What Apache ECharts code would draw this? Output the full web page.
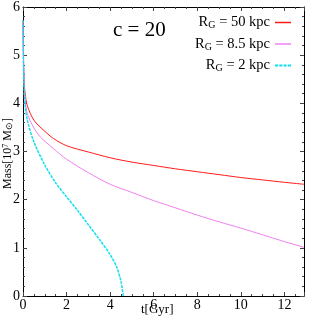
<!DOCTYPE html>
<html><head><meta charset="utf-8">
<script src="https://cdn.jsdelivr.net/npm/echarts@6/dist/echarts.min.js"></script>
<style>html,body{margin:0;padding:0;background:#fff}#c{width:316px;height:316px}</style>
</head><body><div id="c"></div>
<script>
var seriesNames = ['50 kpc', '8.5 kpc', '2 kpc'];
var red50 = [[0,5.72],[0.02,5.0],[0.05,4.5],[0.1,4.2],[0.2,3.95],[0.5,3.65],[1,3.42],[1.4,3.27],[2,3.12],[3,2.99],[4,2.87],[5,2.78],[6,2.71],[7,2.64],[8,2.58],[9,2.52],[10,2.46],[11,2.41],[12,2.36],[12.9,2.32]];
var violet85 = [[0,5.72],[0.02,4.95],[0.05,4.42],[0.1,4.08],[0.2,3.78],[0.5,3.49],[0.8,3.3],[1.4,3.06],[2,2.84],[3,2.56],[4,2.32],[5,2.15],[6,1.98],[7,1.83],[8,1.68],[9,1.54],[10,1.41],[11,1.27],[12,1.13],[12.9,1.01]];
var cyan2 = [[0,5.72],[0.02,4.9],[0.05,4.3],[0.1,3.95],[0.2,3.65],[0.5,3.2],[1,2.72],[1.5,2.35],[2,2.06],[2.5,1.78],[3,1.48],[3.5,1.18],[4,0.86],[4.3,0.6],[4.5,0.3],[4.6,0]];
var xTicks = [0,2,4,6,8,10,12];
var yTicks = [0,1,2,3,4,5,6];
var colors = ['#ff1a1a', '#f080f0', '#10e0f0'];

var font = 'Liberation Serif';
var chart = echarts.init(document.getElementById('c'));
function axisBase(show){
  return {
    axisLine:{show:true,onZero:false,lineStyle:{color:'#000',width:1}},
    axisTick:{show:true,inside:true,length:4,lineStyle:{color:'#444'}},
    minorTick:{show:true,splitNumber:4,length:2,lineStyle:{color:'#444'}},
    splitLine:{show:false},
    axisLabel:{show:show,color:'#000',fontFamily:font,fontSize:14,margin:3}
  };
}
var xb = axisBase(true), xt = axisBase(false), yl = axisBase(true), yr = axisBase(false);
yl.minorTick.splitNumber = 5; yr.minorTick.splitNumber = 5;
var solidIcon = 'path://M0,4.5L16,4.5L16,6L0,6Z';
var dashIcon = 'path://M0,4L3,4L3,6L0,6Z M4,4L7,4L7,6L4,6Z M8,4L11,4L11,6L8,6Z M12,4L15,4L15,6L12,6Z';
var option = {
  animation:false,
  backgroundColor:'#fff',
  grid:{left:23,right:12,top:7,bottom:20},
  xAxis:[
    Object.assign({type:'value',min:0,max:12.9,interval:2,position:'bottom'}, xb,
      {axisLabel:Object.assign({}, xb.axisLabel,{margin:2,formatter:function(v){return xTicks.indexOf(v)>=0?String(v):'';}})}),
    Object.assign({type:'value',min:0,max:12.9,interval:2,position:'top'}, xt)
  ],
  yAxis:[
    Object.assign({type:'value',min:0,max:6,interval:1,position:'left'}, yl,
      {axisLabel:Object.assign({}, yl.axisLabel,{formatter:function(v){return yTicks.indexOf(v)>=0?String(v):'';}})}),
    Object.assign({type:'value',min:0,max:6,interval:1,position:'right'}, yr)
  ],
  legend:{
    orient:'vertical', right:20, top:10, align:'right', itemGap:6,
    itemWidth:16, itemHeight:11,
    textStyle:{fontFamily:font,fontSize:14.5,color:'#000',
      rich:{s:{fontFamily:font,fontSize:10,verticalAlign:'bottom',padding:[6,0,0,0]},
            n:{fontFamily:font,fontSize:14.5}}},
    formatter:function(n){return '{n|R}{s|G}{n| = '+n+'}';},
    data:seriesNames.map(function(n,i){return {name:n,icon:i===2?dashIcon:solidIcon,
      itemStyle:{color:colors[i],borderWidth:0,opacity:1}};})
  },
  graphic:[
    {type:'text',left:113,top:20,style:{text:'c = 20',font:'21px "Liberation Serif"',fill:'#000'}},
    {type:'text',left:141,top:303,style:{text:'t[Gyr]',font:'13px "Liberation Serif"',fill:'#000'}},
    {type:'text',x:2,y:189,rotation:Math.PI/2,
      style:{text:'{n|Mass[10}{p|7}{n| M}{s|⊙}{n|]}',fill:'#000',
        rich:{n:{fontFamily:font,fontSize:12},p:{fontFamily:font,fontSize:8,verticalAlign:'top'},s:{fontFamily:font,fontSize:9,verticalAlign:'bottom'}}}}
  ],
  series:[
    {name:seriesNames[0],type:'line',data:red50,smooth:0.3,showSymbol:false,lineStyle:{color:colors[0],width:1},itemStyle:{color:colors[0]}},
    {name:seriesNames[1],type:'line',data:violet85,smooth:0.3,showSymbol:false,lineStyle:{color:colors[1],width:1},itemStyle:{color:colors[1]}},
    {name:seriesNames[2],type:'line',data:cyan2,smooth:0.3,showSymbol:false,lineStyle:{color:colors[2],width:1.5,type:[3,1]},itemStyle:{color:colors[2]}}
  ]
};
chart.setOption(option);
</script></body></html>
